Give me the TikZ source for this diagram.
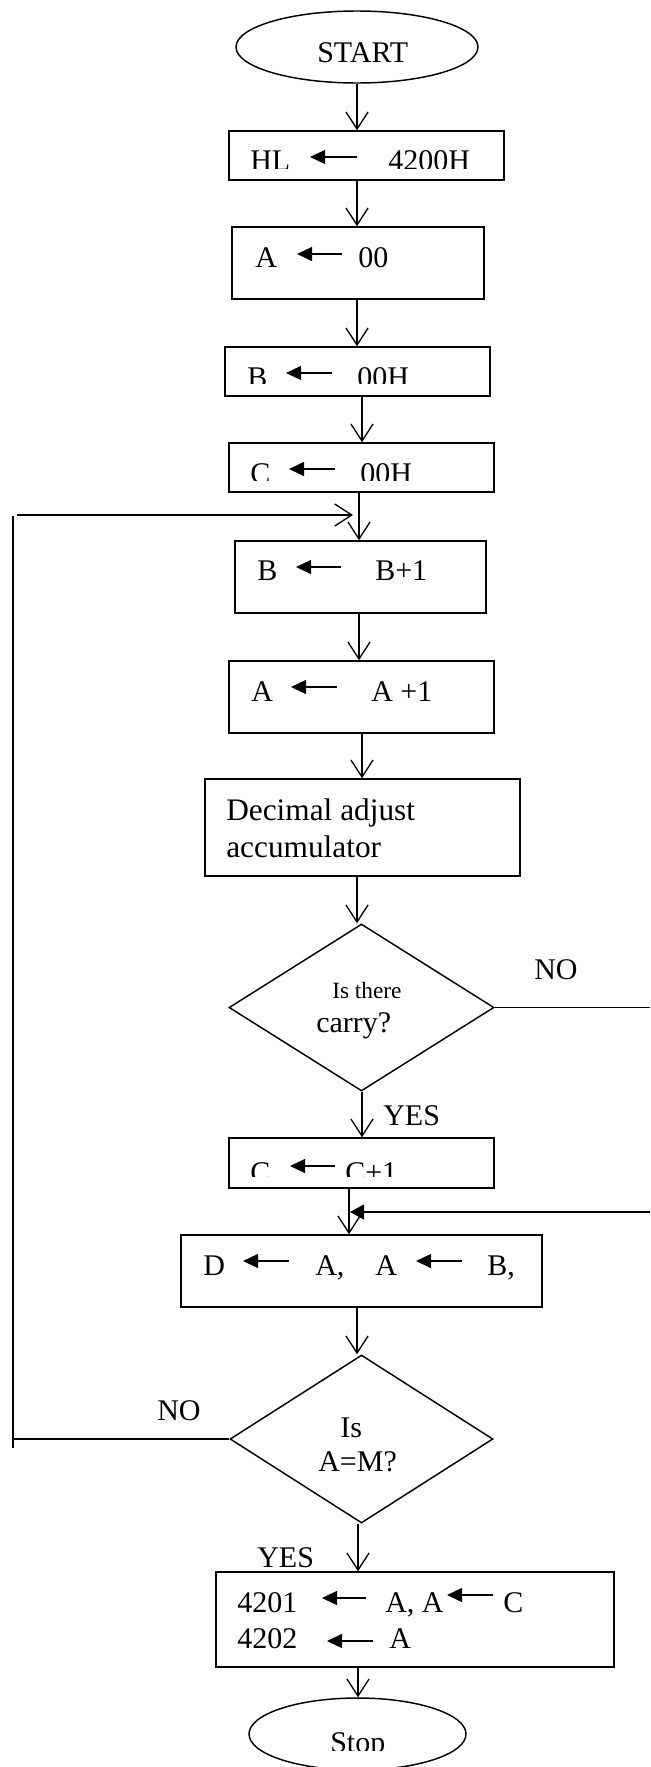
\documentclass[tikz,border=0pt]{standalone}
\usepackage{fontspec}
\setmainfont{Liberation Serif}
\usetikzlibrary{arrows.meta,shapes.geometric,fit}
\tikzset{
  box/.style={draw, rectangle, inner sep=0pt, line width=1.1pt},
  term/.style={draw, ellipse, inner sep=0pt, line width=1.1pt},
  decide/.style={draw, diamond, inner sep=0pt, line width=1.1pt},
  flow/.style={line width=1pt, -{Straight Barb[length=12.75pt,width=16.5pt]}},
  plain/.style={line width=1pt},
  retarr/.style={line width=1pt, -{Triangle[length=10.5pt,width=11.25pt]}},
  lbl/.style={anchor=base west, inner sep=0pt, font=\fontsize{22.5}{27}\selectfont},
  biglbl/.style={anchor=base west, inner sep=0pt, font=\fontsize{23.5}{28}\selectfont},
  smalllbl/.style={anchor=base west, inner sep=0pt, font=\fontsize{17.5}{21}\selectfont},
  txtarr/.style={line width=0.9pt, -{Triangle[length=11.25pt,width=10.5pt]}},
}
\newcommand\tarr[3]{\draw[txtarr] (#2,#3) -- (#1,#3);}
\begin{document}
\begin{tikzpicture}[x=0.75pt,y=-0.75pt]
\fill[white] (0,0) rectangle (650,1767);
\useasboundingbox (0,0) rectangle (650,1767);

% column coordinates
\coordinate (x357) at (357,0);
\coordinate (x358) at (358,0);
\coordinate (x359) at (359,0);
\coordinate (x362) at (362,0);
\coordinate (x349) at (349,0);

% START
\node[term, minimum width=181.5pt, minimum height=54pt] (start) at (357,47) {};
\node[lbl] (startt) at (317,62) {START};

% HL box
\node[box, fit={(229,131) (504,180)}] (hl) {};
\begin{scope}
  \clip (229,131) rectangle (504,168.5);
  \node[lbl] (hlt1) at (250,170.5) {HL};
  \node[lbl] (hlt2) at (388,170.5) {4200H};
\end{scope}
\tarr{310}{357}{157}

% A box
\node[box, fit={(232,227) (484,299)}] (a) {};
\node[lbl] (at1) at (255,267) {A};
\node[lbl] (at2) at (358,267) {00};
\tarr{297}{342}{254}

% B box
\node[box, fit={(225,347) (490,396)}] (b) {};
\begin{scope}
  \clip (225,347) rectangle (490,383.5);
  \node[lbl] (bt1) at (247,387) {B};
  \node[lbl] (bt2) at (357,387) {00H};
\end{scope}
\tarr{286}{332}{373}

% C box
\node[box, fit={(229,443) (494,492)}] (c) {};
\begin{scope}
  \clip (229,443) rectangle (494,480);
  \node[lbl] (ct1) at (250,483) {C};
  \node[lbl] (ct2) at (360,483) {00H};
\end{scope}
\tarr{289}{335}{469}

% B+1 box
\node[box, fit={(235,541) (486,613)}] (bp) {};
\node[lbl] (bpt1) at (257,580) {B};
\node[lbl] (bpt2) at (375,580) {B+1};
\tarr{296}{341}{567}

% A+1 box
\node[box, fit={(229,661) (494,733)}] (ap) {};
\node[lbl] (apt1) at (251,701) {A};
\node[lbl] (apt2) at (371,701) {A +1};
\tarr{291}{337}{687}

% Decimal adjust box
\node[box, fit={(205,779) (520,876)}] (dec) {};
\node[biglbl] (dect1) at (226,820) {Decimal adjust};
\node[biglbl] (dect2) at (226,857) {accumulator};

% carry diamond
\node[decide, minimum width=198.75pt, minimum height=125.25pt] (carry) at (361.5,1007.5) {};
\node[smalllbl] (carryt1) at (332,998) {Is there};
\node[lbl] (carryt2) at (316,1032) {carry?};
\node[lbl] (no1) at (534,979) {NO};
\node[lbl] (yes1) at (383,1125) {YES};

% C+1 box
\node[box, fit={(229,1138) (494,1188)}] (cp) {};
\begin{scope}
  \clip (229,1138) rectangle (494,1176);
  \node[lbl] (cpt1) at (250,1182) {C};
  \node[lbl] (cpt2) at (345,1182) {C+1};
\end{scope}
\tarr{290}{335}{1166}

% D box
\node[box, fit={(181,1235) (542,1307)}] (d) {};
\node[lbl] (dt1) at (203,1275) {D};
\node[lbl] (dt2) at (315,1275) {A,};
\node[lbl] (dt3) at (375,1275) {A};
\node[lbl] (dt4) at (487,1275) {B,};
\tarr{243}{289}{1261}
\tarr{416}{462}{1261}

% A=M diamond
\node[decide, minimum width=197.25pt, minimum height=126pt] (amd) at (361.5,1439) {};
\node[lbl] (amdt1) at (340,1437) {Is};
\node[lbl] (amdt2) at (318,1471) {A=M?};
\node[lbl] (no2) at (157,1420) {NO};
\node[lbl] (yes2) at (257,1567) {YES};

% final box
\node[box, fit={(216,1572) (614,1667)}] (fin) {};
\node[lbl] (fint1) at (237,1612) {4201};
\node[lbl] (fint2) at (385,1612) {A, A};
\node[lbl] (fint3) at (503,1612) {C};
\node[lbl] (fint4) at (237,1648) {4202};
\node[lbl] (fint5) at (389,1648) {A};
\tarr{322}{366}{1598}
\tarr{447}{493}{1595}
\tarr{327}{373}{1641}

% Stop
\node[term, minimum width=162.75pt, minimum height=54pt] (stop) at (357.5,1734) {};
\begin{scope}
  \clip (249,1698) rectangle (466,1750);
  \node[lbl] (stopt) at (330,1752) {Stop};
\end{scope}

% connectors
\draw[flow] (start.south) -- (hl.north -| x357);
\draw[flow] (hl.south -| x357) -- (a.north -| x357);
\draw[flow] (a.south -| x357) -- (b.north -| x357);
\draw[flow] (b.south -| x362) -- (c.north -| x362);
\draw[flow] (c.south -| x359) -- (bp.north -| x359);
\draw[flow] (bp.south -| x359) -- (ap.north -| x359);
\draw[flow] (ap.south -| x362) -- (dec.north -| x362);
\draw[flow] (dec.south -| x357) -- (carry.north -| x357);
\draw[flow] (carry.south -| x362) -- (cp.north -| x362);
\draw[flow] (cp.south -| x349) -- (d.north -| x349);
\draw[flow] (d.south -| x357) -- (amd.north -| x357);
\draw[flow] (amd.south -| x358) -- (fin.north -| x358);
\draw[flow] (fin.south -| x358) -- (stop.north -| x358);

% NO branch of carry test
\coordinate (noR) at (650,1006);
\draw[plain] (carry.east) -- (carry.east -| noR);
% return into D box
\coordinate (retR) at (650,1212);
\coordinate (retL) at (350,1212);
\draw[retarr] (retR) -- (retL);

% loop back
\coordinate (lpB) at (13,1448);
\coordinate (lpT) at (13,516);
\coordinate (lpS) at (17,515);
\coordinate (lpE) at (353,515);
\draw[plain] (lpB) -- (lpT);
\draw[plain] (amd.west) -- (amd.west -| lpB);
\draw[flow] (lpS) -- (lpE);
\end{tikzpicture}
\end{document}
